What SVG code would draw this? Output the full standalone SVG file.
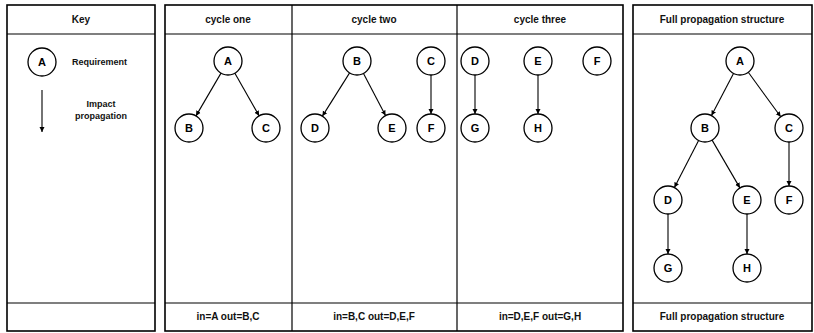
<svg xmlns="http://www.w3.org/2000/svg" width="814" height="333" viewBox="0 0 814 333">
<defs>
<marker id="ah" viewBox="0 0 10 10" refX="10" refY="5" markerWidth="5" markerHeight="6" orient="auto" markerUnits="userSpaceOnUse">
<path d="M0,0 L10,5 L0,10 z" fill="#000"/>
</marker>
<style>
.panel{fill:#fff;stroke:#000;stroke-width:1.6}
.sep{stroke:#000;stroke-width:1.2}
.hdr{font-family:"Liberation Sans",Arial,sans-serif;font-size:10px;font-weight:bold;text-anchor:middle;fill:#111}
.small{font-family:"Liberation Sans",Arial,sans-serif;font-size:9px;font-weight:bold;fill:#111}
.node circle{fill:#fff;stroke:#000;stroke-width:1.3}
.node text{font-family:"Liberation Sans",Arial,sans-serif;font-size:11px;font-weight:bold;text-anchor:middle;fill:#000}
.edge{stroke:#000;stroke-width:1.1;fill:none;marker-end:url(#ah)}
</style>
</defs>
<rect width="814" height="333" fill="#fff"/>
<g id="frames">
<rect class="panel" x="7" y="5" width="148" height="326"/>
<line class="sep" x1="7" y1="34" x2="155" y2="34"/>
<line class="sep" x1="7" y1="303" x2="155" y2="303"/>
<rect class="panel" x="165" y="5" width="458" height="326"/>
<line class="sep" x1="165" y1="34" x2="623" y2="34"/>
<line class="sep" x1="165" y1="303" x2="623" y2="303"/>
<line class="sep" x1="292" y1="5" x2="292" y2="331" stroke-width="1.6"/>
<line class="sep" x1="457" y1="5" x2="457" y2="331" stroke-width="1.6"/>
<rect class="panel" x="633" y="5" width="179" height="326"/>
<line class="sep" x1="633" y1="34" x2="812" y2="34"/>
<line class="sep" x1="633" y1="303" x2="812" y2="303"/>
</g>
<g id="labels">
<text class="hdr" x="81" y="23">Key</text>
<text class="hdr" x="228" y="23">cycle one</text>
<text class="hdr" x="374" y="23">cycle two</text>
<text class="hdr" x="540" y="23">cycle three</text>
<text class="hdr" x="722" y="23">Full propagation structure</text>
<text class="hdr" x="228" y="320">in=A out=B,C</text>
<text class="hdr" x="374" y="320">in=B,C out=D,E,F</text>
<text class="hdr" x="540" y="320">in=D,E,F out=G,H</text>
<text class="hdr" x="722" y="320">Full propagation structure</text>
</g>
<g id="key">
<g class="node" id="key-A"><circle cx="42" cy="62" r="14"/><text x="42" y="66">A</text></g>
<text class="small" x="72" y="65">Requirement</text>
<line class="edge" x1="42" y1="90" x2="42" y2="132" stroke-width="1.4"/>
<text class="small" x="101" y="107" text-anchor="middle">Impact</text>
<text class="small" x="101" y="119" text-anchor="middle">propagation</text>
</g>
<g id="connectors">
<line class="edge" x1="221" y1="73.1" x2="196" y2="115.9"/>
<line class="edge" x1="234.9" y1="73.2" x2="259.1" y2="115.8"/>
<line class="edge" x1="349.6" y1="72.9" x2="322.4" y2="116.1"/>
<line class="edge" x1="363.5" y1="73.4" x2="385.5" y2="115.6"/>
<line class="edge" x1="431" y1="75" x2="431" y2="114"/>
<line class="edge" x1="475" y1="75" x2="475" y2="114"/>
<line class="edge" x1="538" y1="75" x2="538" y2="114"/>
<line class="edge" x1="733.5" y1="73.4" x2="711.5" y2="115.6"/>
<line class="edge" x1="748.3" y1="72.3" x2="780.7" y2="116.7"/>
<line class="edge" x1="698.6" y1="140.5" x2="674.4" y2="187.5"/>
<line class="edge" x1="712.1" y1="140.1" x2="739.9" y2="187.9"/>
<line class="edge" x1="789" y1="142" x2="789" y2="186"/>
<line class="edge" x1="668" y1="214" x2="668" y2="254"/>
<line class="edge" x1="747" y1="214" x2="747" y2="254"/>
</g>
<g id="c1-A" class="node"><circle cx="228" cy="61" r="14"/><text x="228" y="65">A</text></g>
<g id="c1-B" class="node"><circle cx="189" cy="128" r="14"/><text x="189" y="132">B</text></g>
<g id="c1-C" class="node"><circle cx="266" cy="128" r="14"/><text x="266" y="132">C</text></g>
<g id="c2-B" class="node"><circle cx="357" cy="61" r="14"/><text x="357" y="65">B</text></g>
<g id="c2-C" class="node"><circle cx="431" cy="61" r="14"/><text x="431" y="65">C</text></g>
<g id="c2-D" class="node"><circle cx="315" cy="128" r="14"/><text x="315" y="132">D</text></g>
<g id="c2-E" class="node"><circle cx="392" cy="128" r="14"/><text x="392" y="132">E</text></g>
<g id="c2-F" class="node"><circle cx="431" cy="128" r="14"/><text x="431" y="132">F</text></g>
<g id="c3-D" class="node"><circle cx="475" cy="61" r="14"/><text x="475" y="65">D</text></g>
<g id="c3-E" class="node"><circle cx="538" cy="61" r="14"/><text x="538" y="65">E</text></g>
<g id="c3-F" class="node"><circle cx="597" cy="61" r="14"/><text x="597" y="65">F</text></g>
<g id="c3-G" class="node"><circle cx="475" cy="128" r="14"/><text x="475" y="132">G</text></g>
<g id="c3-H" class="node"><circle cx="538" cy="128" r="14"/><text x="538" y="132">H</text></g>
<g id="f-A" class="node"><circle cx="740" cy="61" r="14"/><text x="740" y="65">A</text></g>
<g id="f-B" class="node"><circle cx="705" cy="128" r="14"/><text x="705" y="132">B</text></g>
<g id="f-C" class="node"><circle cx="789" cy="128" r="14"/><text x="789" y="132">C</text></g>
<g id="f-D" class="node"><circle cx="668" cy="200" r="14"/><text x="668" y="204">D</text></g>
<g id="f-E" class="node"><circle cx="747" cy="200" r="14"/><text x="747" y="204">E</text></g>
<g id="f-F" class="node"><circle cx="789" cy="200" r="14"/><text x="789" y="204">F</text></g>
<g id="f-G" class="node"><circle cx="668" cy="268" r="14"/><text x="668" y="272">G</text></g>
<g id="f-H" class="node"><circle cx="747" cy="268" r="14"/><text x="747" y="272">H</text></g>
</svg>
